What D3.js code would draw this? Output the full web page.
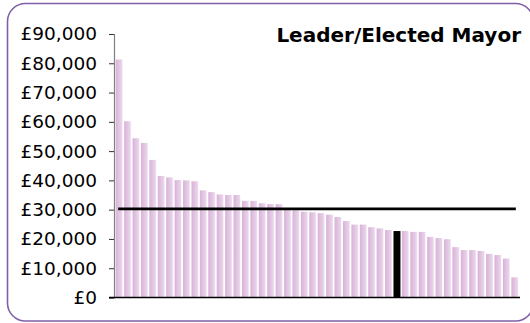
<!DOCTYPE html>
<html>
<head>
<meta charset="utf-8">
<script src="https://cdn.jsdelivr.net/npm/d3@7"></script>
<style>
  html, body { margin: 0; padding: 0; background: #fff; }
  svg { display: block; }
</style>
</head>
<body>
<svg id="chart" width="530" height="323"></svg>
<script>
// Allowances by council, sorted high to low
const councils = [
  "C01","C02","C03","C04","C05","C06","C07","C08","C09","C10",
  "C11","C12","C13","C14","C15","C16","C17","C18","C19","C20",
  "C21","C22","C23","C24","C25","C26","C27","C28","C29","C30",
  "C31","C32","C33","C34","C35","C36","C37","C38","C39","C40",
  "C41","C42","C43","C44","C45","C46","C47","C48"
];
const allowances = [
  81300, 60200, 54400, 52800, 47000, 41500, 41000, 40100, 40000, 39700,
  36600, 36000, 35200, 35000, 35000, 33000, 33000, 32200, 31900, 31900,
  30300, 29800, 29300, 29100, 28800, 28300, 27500, 26100, 24900, 24900,
  24000, 23600, 23050, 22700, 22700, 22400, 22400, 20700, 20300, 19900,
  17200, 16200, 16200, 15900, 14900, 14500, 13300, 6900
];
const highlighted = "C34";
const yTicks = [0, 10000, 20000, 30000, 40000, 50000, 60000, 70000, 80000, 90000];
const title = "Leader/Elected Mayor";

const svg = d3.select("#chart");
const defs = svg.append("defs");
const grad = defs.append("linearGradient").attr("id", "barFill")
  .attr("x1", "0%").attr("x2", "100%").attr("y1", "0%").attr("y2", "0%");
grad.append("stop").attr("offset", "0%").attr("stop-color", "#d8b2d8");
grad.append("stop").attr("offset", "85%").attr("stop-color", "#ead4ea");
grad.append("stop").attr("offset", "100%").attr("stop-color", "#f6eef6");

// rounded frame
svg.append("rect")
  .attr("x", 7.5).attr("y", 3.5).attr("width", 526).attr("height", 317.5)
  .attr("rx", 18).attr("ry", 18)
  .attr("fill", "none").attr("stroke", "#8060a8").attr("stroke-width", 1.6);

const plotLeft = 114, plotRight = 520, plotTop = 34, plotBottom = 297.5;

const x = d3.scaleBand().domain(councils).range([plotLeft, plotRight])
  .paddingInner(0.17).paddingOuter(0.2);
const y = d3.scaleLinear().domain([0, 90000]).range([plotBottom, plotTop]);

// bars
svg.append("g").selectAll("rect").data(councils).join("rect")
  .attr("x", d => x(d))
  .attr("y", (d, i) => y(allowances[i]))
  .attr("width", x.bandwidth())
  .attr("height", (d, i) => plotBottom - y(allowances[i]))
  .attr("fill", d => d === highlighted ? "#000" : "url(#barFill)");

// y axis
const yAxis = d3.axisLeft(y).tickValues(yTicks).tickSize(5).tickPadding(12)
  .tickFormat(d => "£" + d3.format(",")(d));
const gy = svg.append("g").attr("transform", `translate(${plotLeft},0)`).call(yAxis);
gy.select(".domain").attr("stroke", "#808080").attr("stroke-width", 1.2);
gy.selectAll(".tick line").attr("stroke", "#333");
gy.selectAll(".tick text")
  .attr("font-family", "'DejaVu Sans', Verdana, sans-serif")
  .attr("font-size", 18.5).attr("fill", "#000");

// baseline
svg.append("line")
  .attr("x1", plotLeft - 5).attr("x2", plotRight)
  .attr("y1", plotBottom).attr("y2", plotBottom)
  .attr("stroke", "#000").attr("stroke-width", 1.3);

// average line across the bar centres
const avg = d3.mean(allowances);
const half = x.bandwidth() / 2;
svg.append("line")
  .attr("x1", x(councils[0]) + half - 1)
  .attr("x2", x(councils[councils.length - 1]) + half + 1)
  .attr("y1", y(avg)).attr("y2", y(avg))
  .attr("stroke", "#000").attr("stroke-width", 2.6);

// title
svg.append("text")
  .attr("x", 521).attr("y", 41.5)
  .attr("text-anchor", "end")
  .attr("font-family", "'DejaVu Sans', Verdana, sans-serif")
  .attr("font-weight", "bold").attr("font-size", 20)
  .attr("fill", "#000")
  .text(title);
</script>
</body>
</html>
